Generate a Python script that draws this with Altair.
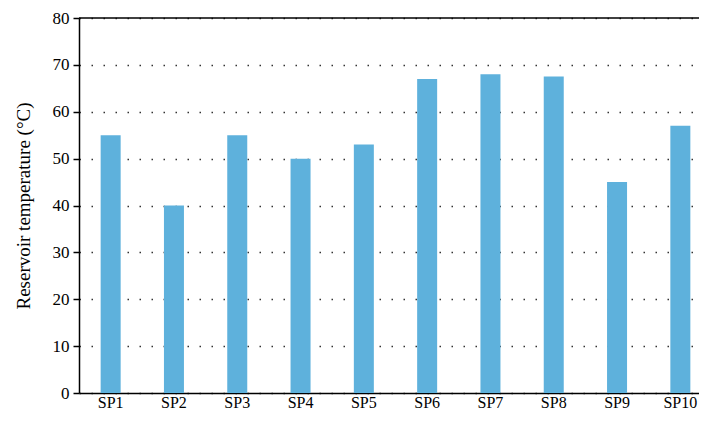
import altair as alt
import pandas as pd

categories = ["SP1", "SP2", "SP3", "SP4", "SP5", "SP6", "SP7", "SP8", "SP9", "SP10"]
temps = [55, 40, 55, 50, 53, 67, 68, 67.5, 45, 57]
y_ticks = [0, 10, 20, 30, 40, 50, 60, 70, 80]

df = pd.DataFrame({"site": categories, "temp": temps})
top = pd.DataFrame({"v": [80]})

FONT = "Liberation Serif, Times New Roman, serif"

bars = alt.Chart(df).mark_bar(color="#5eb1dc", size=20).encode(
    x=alt.X("site:N", sort=categories, title=None,
            scale=alt.Scale(paddingInner=0, paddingOuter=0, range=[0, 633]),
            axis=alt.Axis(labelAngle=0, labelFont=FONT, labelFontSize=16, labelColor="black",
                          ticks=False, domainColor="black", domainWidth=1.5, labelPadding=1, grid=False)),
    y=alt.Y("temp:Q", title="Reservoir temperature (°C)",
            scale=alt.Scale(domain=[0, 80], nice=False),
            axis=alt.Axis(values=y_ticks, labelFont=FONT, labelFontSize=17, labelColor="black",
                          titleFont=FONT, titleFontSize=19, titleFontWeight="normal", titleColor="black",
                          titlePadding=19, labelPadding=4,
                          tickColor="black", tickSize=6, tickWidth=1.5,
                          domainColor="black", domainWidth=1.5,
                          grid=True, gridColor="#333333", gridDash=[1.5, 10.5], gridWidth=1.5)),
)

top_rule = alt.Chart(top).mark_rule(color="black", strokeWidth=1.5).encode(
    y="v:Q", x=alt.value(0), x2=alt.value(633))

chart = alt.layer(bars, top_rule).properties(
    width=620, height=375,
    autosize=alt.AutoSizeParams(type="none"),
    padding={"left": 71, "top": 10, "right": 0, "bottom": 20},
).configure_view(stroke=None)

chart.save("out.html", embed_options={"renderer": "svg", "actions": False})
